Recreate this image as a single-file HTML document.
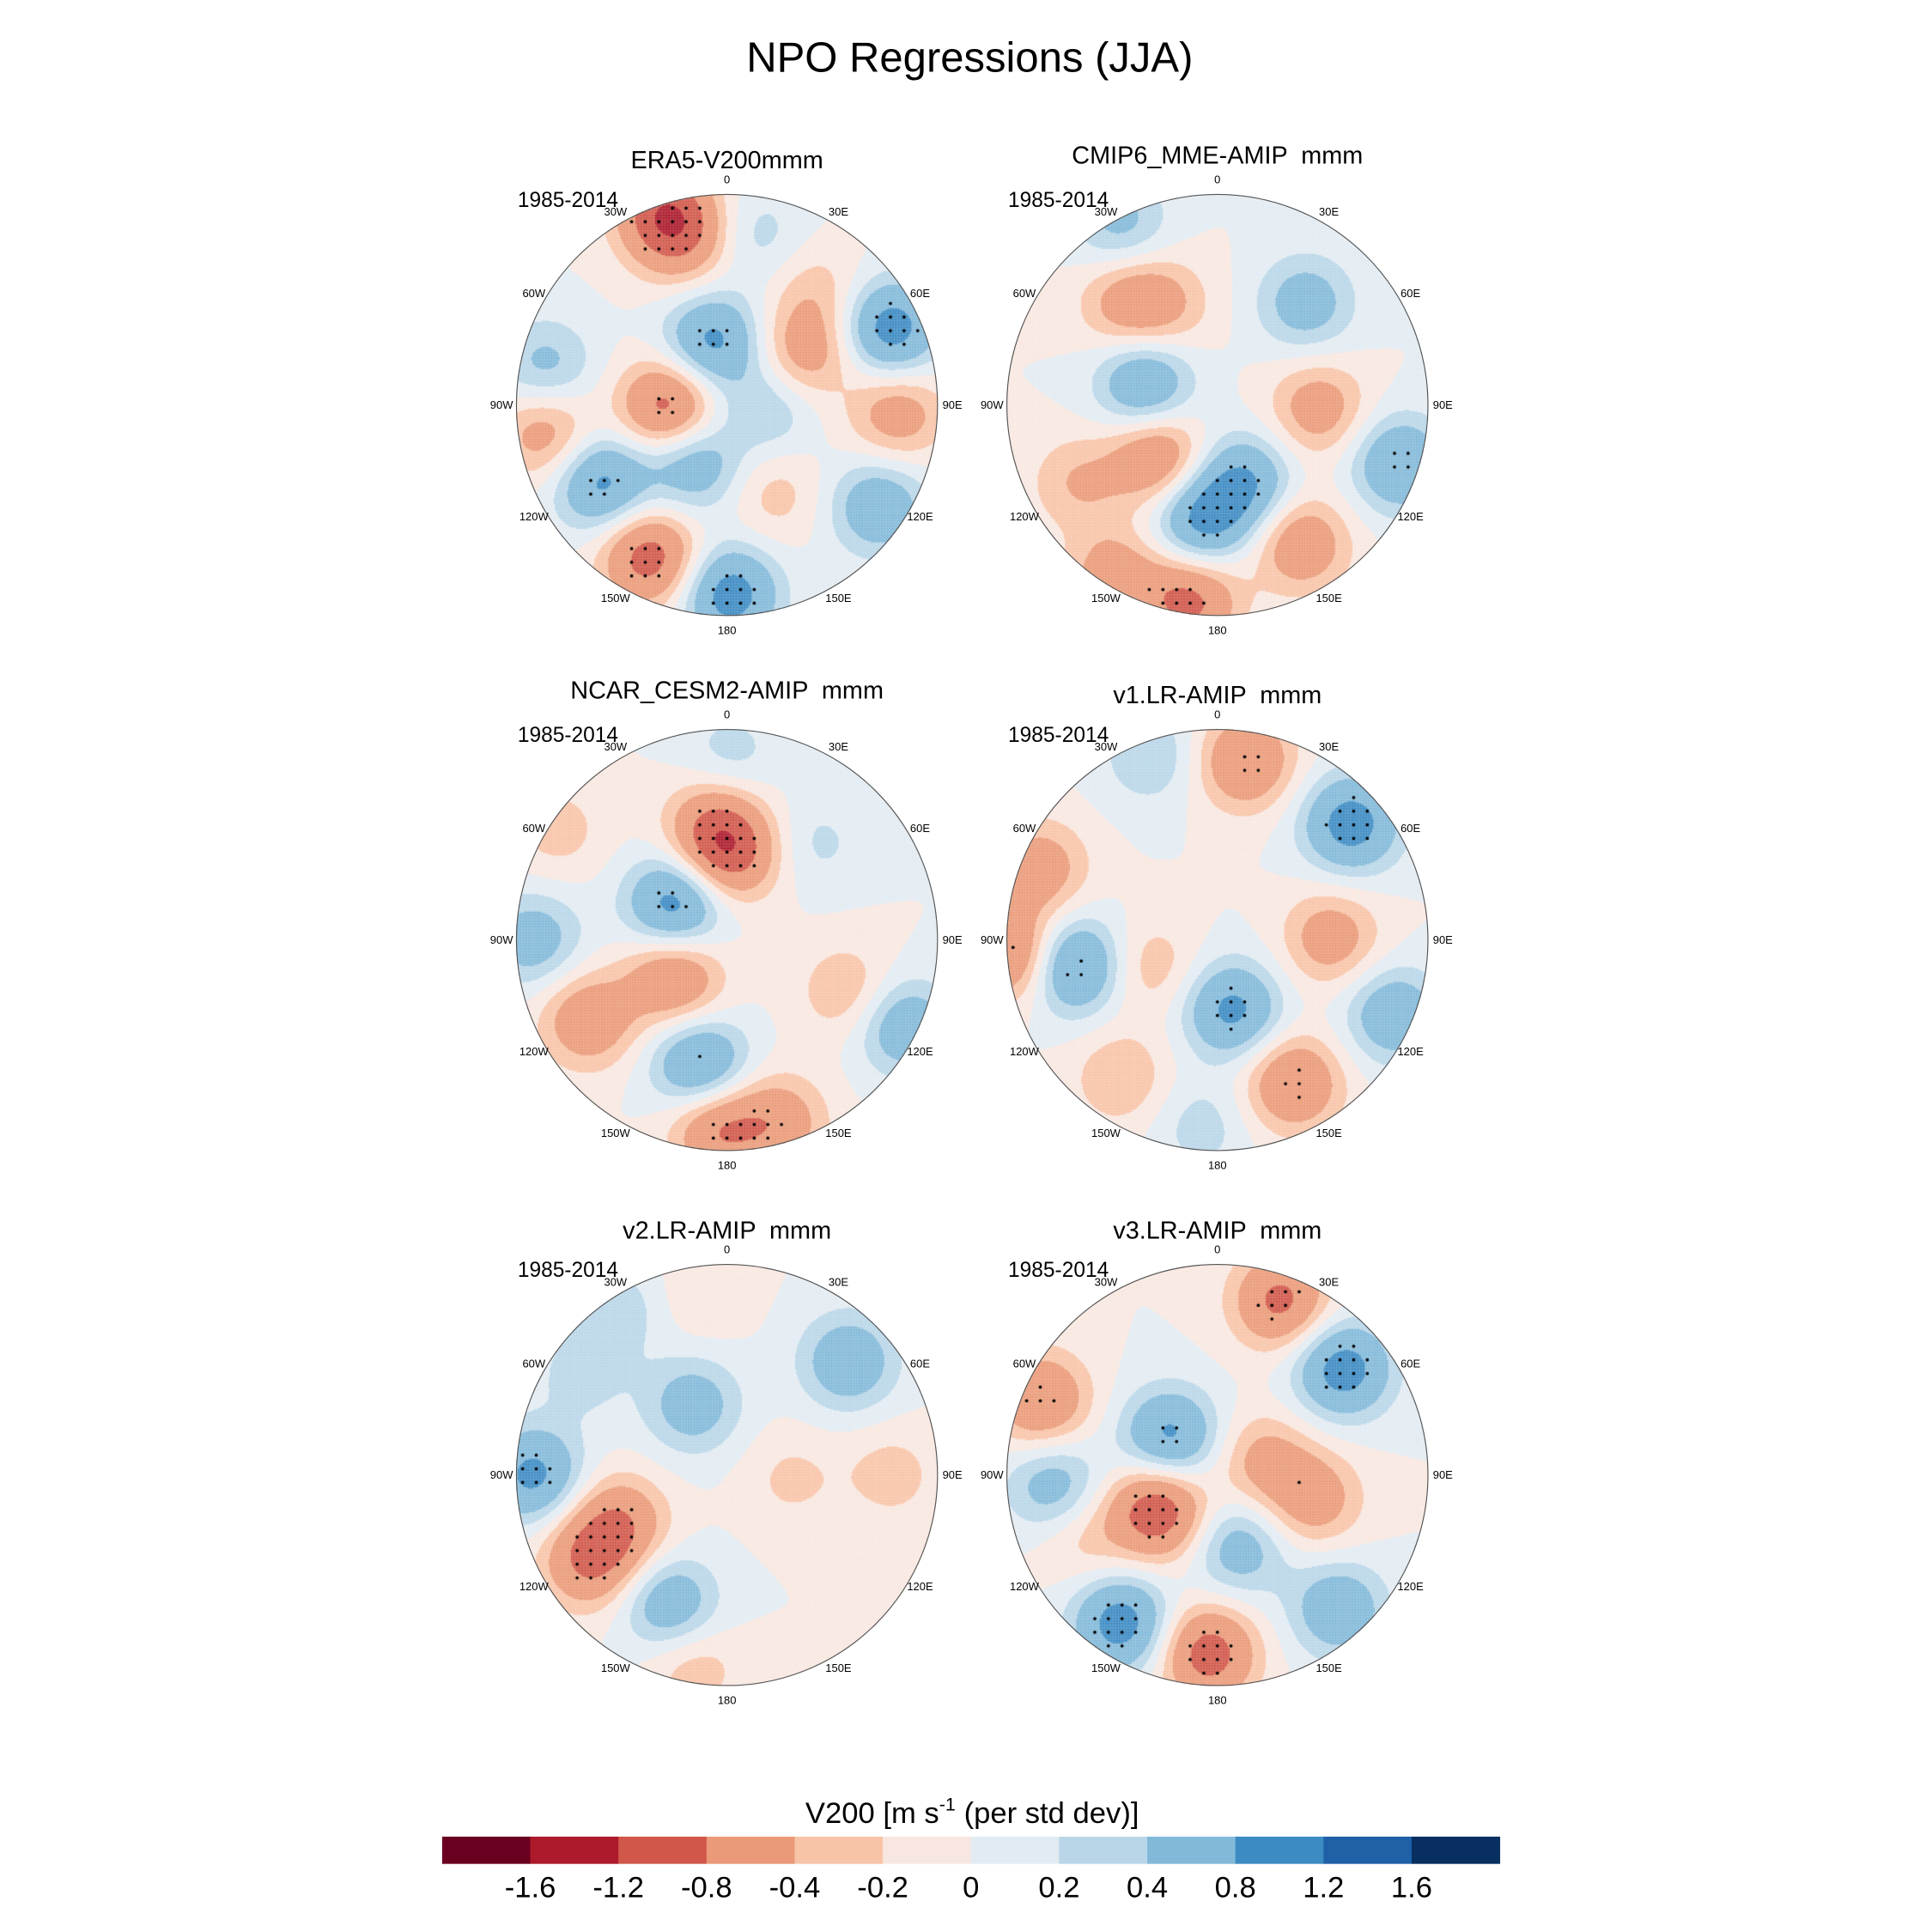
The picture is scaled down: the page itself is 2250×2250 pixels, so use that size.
<!DOCTYPE html>
<html><head><meta charset="utf-8"><style>
html,body{margin:0;padding:0;background:#fff;}
#wrap{position:relative;width:2250px;height:2250px;overflow:hidden;}
canvas,svg{position:absolute;left:0;top:0;}
text{font-family:"Liberation Sans",sans-serif;fill:#000;white-space:pre;}
</style></head><body>
<div id="wrap">
<canvas id="cv" width="2250" height="2250"></canvas>
<svg id="sv" width="2250" height="2250" viewBox="0 0 1560 1560">
<text x="783" y="58" font-size="34" text-anchor="middle">NPO Regressions (JJA)</text>
<text x="785" y="1472" font-size="24" text-anchor="middle">V200 [m s<tspan dy="-10" font-size="15">-1</tspan><tspan dy="10"> (per std dev)]</tspan></text>
<g id="cbar"></g>
<g id="panels"></g>
</svg>
</div>
<script>
// ---- Data ----
const levels = [-1.6,-1.2,-0.8,-0.4,-0.2,0,0.2,0.4,0.8,1.2,1.6];
const levelLabels = ["-1.6","-1.2","-0.8","-0.4","-0.2","0","0.2","0.4","0.8","1.2","1.6"];
const colors = ["#6a0020","#ac1a2c","#d1574a","#ea9a78","#f8c4a8","#f8e7e0","#e2ebf2","#b9d6e8","#82b9d9","#3d8bc3","#1f60a6","#072f60"];
const panelTitles = ["ERA5-V200mmm","CMIP6_MME-AMIP  mmm","NCAR_CESM2-AMIP  mmm","v1.LR-AMIP  mmm","v2.LR-AMIP  mmm","v3.LR-AMIP  mmm"];
const lonLabels = ["0","30E","60E","90E","120E","150E","180","150W","120W","90W","60W","30W"];
// anomaly centers per panel: longitude (deg E), distance from pole (0..1 of map radius), value (negative = red)
const p1Lon = [-18,-14,-13,65,56,-92,-99,-78,93,95,-122,-150,-153,179,124,152,38,10];
const p1Rho = [0.96,0.8,0.31,0.86,0.45,0.28,0.87,0.88,0.81,0.2,0.7,0.32,0.81,0.9,0.87,0.48,0.69,0.82];
const p1Val = [-1.0,-0.5,0.9,1.0,-0.6,-1.0,-0.6,0.5,-0.6,0.4,0.9,0.7,-1.0,1.0,0.7,-0.3,-0.3,0.3];
const p2Lon = [-28,-42,-28,41,-74,92,108,-132,-119,-172,161,149,-172,-149];
const p2Rho = [0.98,0.65,0.54,0.64,0.36,0.48,0.91,0.38,0.76,0.55,0.39,0.77,0.94,0.95];
const p2Val = [0.5,-0.5,-0.4,0.6,0.8,-0.6,0.8,-0.8,-0.4,0.9,0.8,-0.7,-0.9,-0.6];
const p3Lon = [1,2,-7,-55,-57,-90,-126,-120,-168,-177,164,113,116,43];
const p3Rho = [0.88,0.41,0.55,0.3,0.96,0.92,0.31,0.76,0.61,0.89,0.9,0.62,0.94,0.63];
const p3Val = [0.3,-0.9,-0.6,1.0,-0.3,0.6,-0.8,-0.7,0.9,-0.8,-0.6,-0.4,0.7,0.25];
const p4Lon = [9,-20,49,-68,-94,-100,-112,168,89,152,113,-145,-175];
const p4Rho = [0.86,0.93,0.84,0.91,0.96,0.7,0.34,0.34,0.54,0.77,0.91,0.8,0.89];
const p4Val = [-0.8,0.4,1.0,-0.6,-0.9,1.0,-0.35,0.9,-0.6,-0.8,0.7,-0.4,0.3];
const p5Lon = [-26,47,-90,-114,-122,-156,90,94,-170,-55,-10,-31];
const p5Rho = [0.37,0.79,0.92,0.56,0.77,0.67,0.78,0.31,0.92,0.84,0.87,0.93];
const p5Val = [0.6,0.7,0.9,-0.7,-0.8,0.7,-0.3,-0.25,-0.35,0.3,-0.2,0.3];
const p6Lon = [20,50,-67,-51,73,104,-94,-121,164,-147,-177,138,-115];
const p6Rho = [0.88,0.78,0.91,0.29,0.23,0.47,0.78,0.33,0.36,0.84,0.85,0.86,0.7];
const p6Val = [-0.9,1.0,-0.8,0.9,-0.5,-0.6,0.6,-1.1,0.6,1.0,-1.0,0.7,-0.3];

const panelLon=[p1Lon,p2Lon,p3Lon,p4Lon,p5Lon,p6Lon];
const panelRho=[p1Rho,p2Rho,p3Rho,p4Rho,p5Rho,p6Rho];
const panelVal=[p1Val,p2Val,p3Val,p4Val,p5Val,p6Val];

// ---- Layout ----
const R=170, W=0.16;
const centers=[[587,327],[983,327],[587,759],[983,759],[587,1191],[983,1191]];
const titleY=[136,132,564,568,1000,1000];
const NS="http://www.w3.org/2000/svg";
const S=2250/1560;
function mk(tag,attrs,parent){const e=document.createElementNS(NS,tag);for(const k in attrs)e.setAttribute(k,attrs[k]);parent.appendChild(e);return e;}
function colorFor(v){let i=0;while(i<levels.length&&v>=levels[i])i++;return colors[i];}
function field(p,x,y){
  let s=0;const L=panelLon[p],Rh=panelRho[p],V=panelVal[p];
  for(let k=0;k<V.length;k++){const a=L[k]*Math.PI/180;const bx=Rh[k]*Math.sin(a),by=-Rh[k]*Math.cos(a);
    const d2=(x-bx)*(x-bx)+(y-by)*(y-by);s+=V[k]*Math.exp(-d2/(2*W*W));}
  return s;
}
const ctx=document.getElementById('cv').getContext('2d');
ctx.scale(S,S);
const panelsG=document.getElementById('panels');
for(let p=0;p<6;p++){
  const [cx,cy]=centers[p];
  const step=1;
  for(let j=-R;j<R;j+=step){for(let i=-R;i<R;i+=step){
    const x=(i+0.5)/R,y=(j+0.5)/R; if(x*x+y*y>1.0)continue;
    ctx.fillStyle=colorFor(field(p,x,y)); ctx.fillRect(cx+i,cy+j,step+0.1,step+0.1);}}
  ctx.fillStyle="#000";
  for(let j=-R;j<R;j+=11){for(let i=-R+((j/11)%2?5:0);i<R;i+=11){
    const x=i/R,y=j/R; if(x*x+y*y>0.97)continue;
    if(Math.abs(field(p,x,y))>0.7){ctx.beginPath();ctx.arc(cx+i,cy+j,1.3,0,6.3);ctx.fill();}}}
  const g=mk('g',{},panelsG);
  
  
  const c=mk('circle',{cx:cx,cy:cy,r:R,fill:'none',stroke:'#555','stroke-width':0.8},g);
  
  
  const t=mk('text',{x:cx,y:titleY[p],'font-size':20,'text-anchor':'middle'},g);t.textContent=panelTitles[p];
  
  
  const yr=mk('text',{x:cx-169,y:cy-160,'font-size':17},g);yr.textContent="1985-2014";
  
  
  for(let k=0;k<12;k++){const a=k*30*Math.PI/180;const rr=R+(k%3===0?12:10);
    const lt=mk('text',{x:cx+rr*Math.sin(a),y:cy-rr*Math.cos(a)+3,'font-size':9,'text-anchor':'middle'},g);lt.textContent=lonLabels[k];
    
    }
}
const cb=document.getElementById('cbar');
const cbX0=357,cbW=854/12;
for(let k=0;k<colors.length;k++){
  const r=mk('rect',{x:cbX0+k*cbW,y:1483,width:cbW+0.3,height:22,fill:colors[k]},cb);
  
  }
for(let k=0;k<levelLabels.length;k++){
  const t=mk('text',{x:cbX0+(k+1)*cbW,y:1532,'font-size':24,'text-anchor':'middle'},cb);t.textContent=levelLabels[k];
  
  }
</script>
</body></html>
